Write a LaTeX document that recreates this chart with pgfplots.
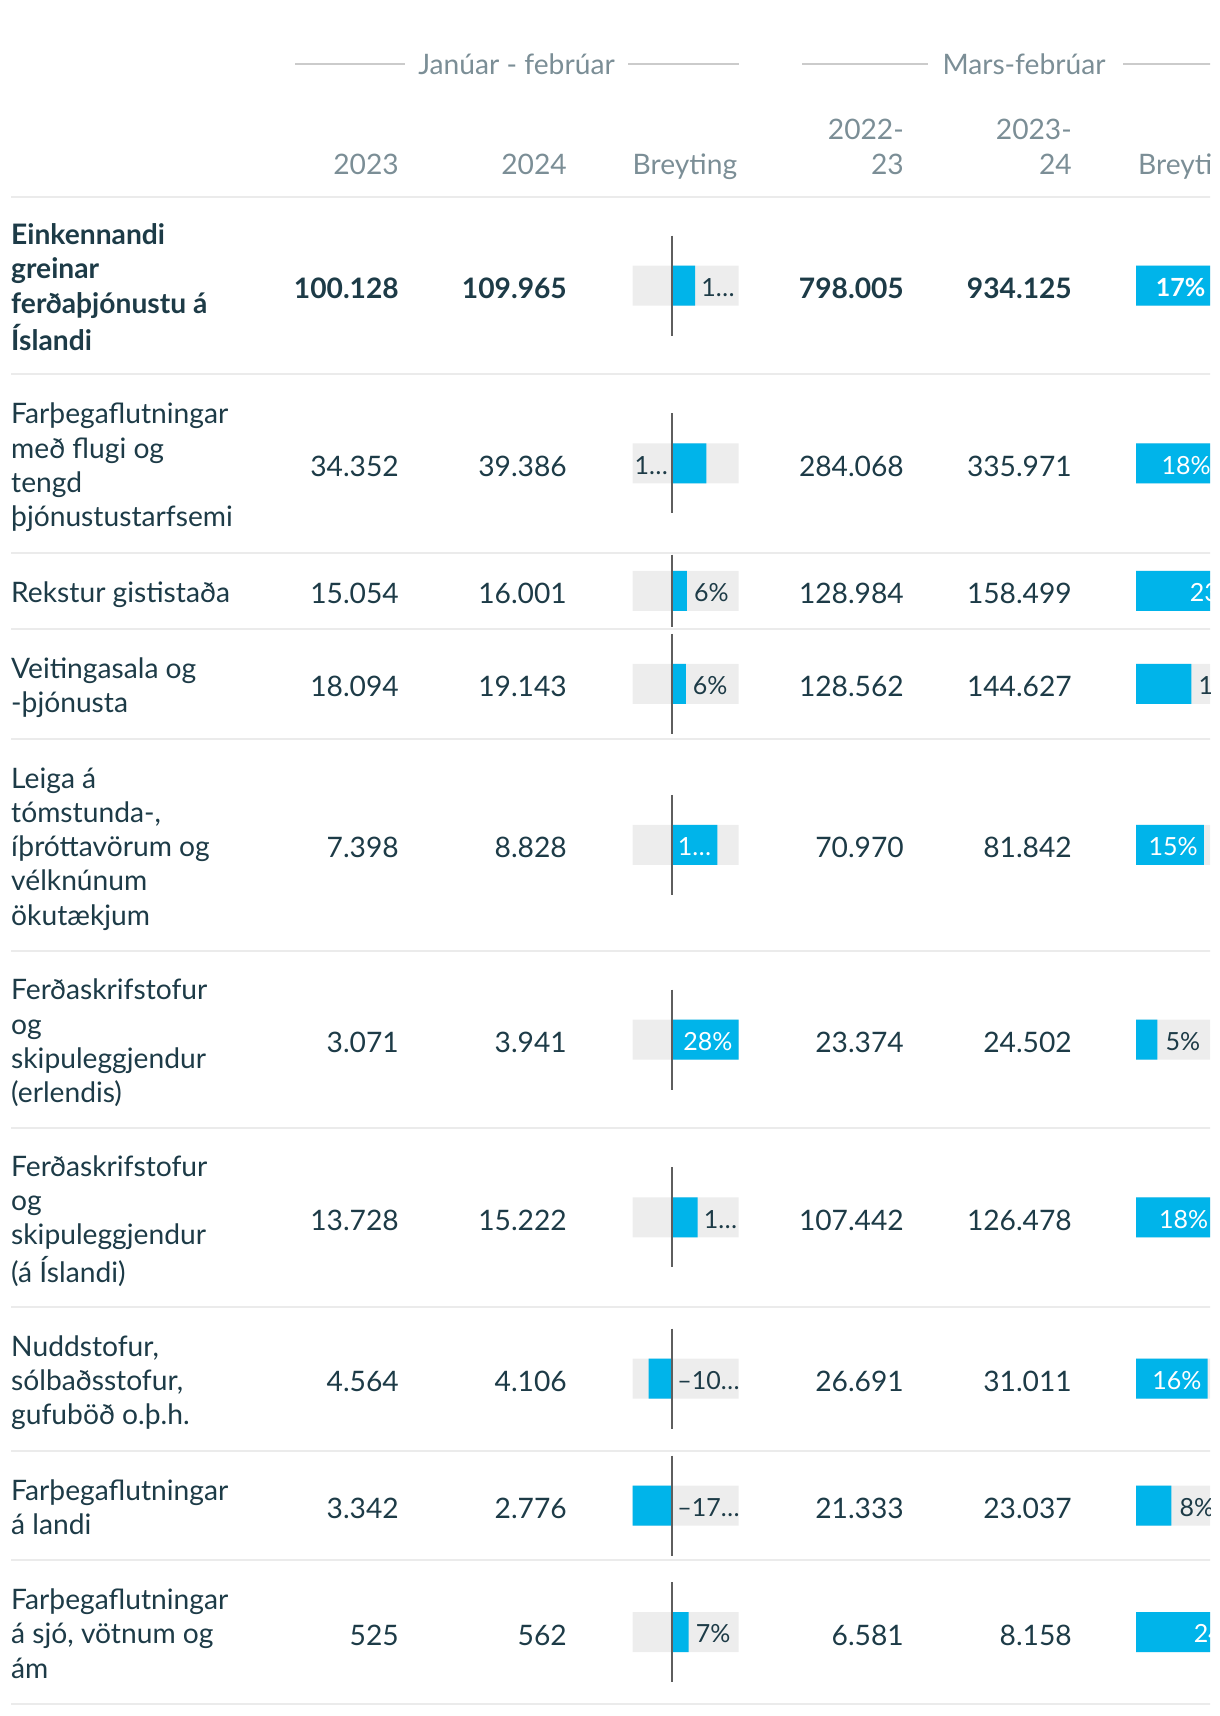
\documentclass[border=0pt]{standalone}
\usepackage{fontspec}
\setmainfont{Lato}
\usepackage{pgfplots}
\usepackage{pgfplotstable}
\pgfplotsset{compat=1.18}
\definecolor{dark}{HTML}{1D3B47}
\definecolor{hdr}{HTML}{7B8E96}
\definecolor{hline}{HTML}{CBCBCB}
\definecolor{sepc}{HTML}{EBEBEB}
\definecolor{track}{HTML}{EDEDED}
\definecolor{cblue}{HTML}{00B4EA}
\definecolor{zline}{HTML}{5E5E5E}

% row centre (px from top), change Jan-Feb (%), change Mar-Feb (%)
\pgfplotstableread{
yc ca cb
285.6 9.82 17.06
463.4 14.65 18.27
590.9 6.29 22.88
683.9 5.80 12.50
844.8 19.33 15.32
1039.5 28.33 4.83
1217.3 10.88 17.72
1378.7 -10.03 16.19
1505.6 -16.94 7.99
1632.0 7.05 23.96
}\chg

\newcommand\body{\fontsize{28.2}{34.3}\selectfont}
\newcommand\lbl{\fontsize{25}{30}\selectfont}
\newcommand\vals[5]{%
  \node[anchor=base east] at (399,#1+3) {#2};
  \node[anchor=base east] at (567,#1+3) {#3};
  \node[anchor=base east] at (904,#1+3) {#4};
  \node[anchor=base east] at (1072,#1+3) {#5};}

\begin{document}
\begin{tikzpicture}[x=1pt,y=-1pt,font=\body,inner sep=0pt]
\path[use as bounding box] (0,0) rectangle (1220,1716);
\begin{scope}
\clip (0,0) rectangle (1210,1716);
% header
\draw[hline, line width=2pt] (295,63.5) -- (405,63.5) (628,63.5) -- (738.6,63.5);
\draw[hline, line width=2pt] (802,63.5) -- (928,63.5) (1123,63.5) -- (1246,63.5);
\node[anchor=base, text=hdr] at (516.5,74.5) {Janúar - febrúar};
\node[anchor=base, text=hdr] at (1024,74.5) {Mars-febrúar};
\begin{scope}[text=hdr]
\node[anchor=base east] at (399,174) {2023};
\node[anchor=base east] at (567,174) {2024};
\node[anchor=base west] at (632.5,174) {Breyting};
\node[anchor=base east] at (904,139) {2022-};
\node[anchor=base east] at (904,174) {23};
\node[anchor=base east] at (1072,139) {2023-};
\node[anchor=base east] at (1072,174) {24};
\node[anchor=base west] at (1138,174) {Breyting};
\end{scope}
% separators
\foreach \yy in {197,374.2,552.6,629.2,738.6,950.9,1128.1,1306.5,1450.9,1560.3,1703.7}
  \draw[sepc, line width=2pt] (11,\yy) -- (1220,\yy);
% row labels
\begin{scope}[text=dark, every node/.append style={yshift=-5pt}]
\node[anchor=west, align=left] at (11,285.6) {\bfseries\strut Einkennandi\\\bfseries\strut greinar\\\bfseries\strut ferðaþjónustu á\\\bfseries\strut Íslandi};
\node[anchor=west, align=left] at (11,463.4) {\strut Farþegaflutningar\\\strut með flugi og\\\strut tengd\\\strut þjónustustarfsemi};
\node[anchor=west, align=left] at (11,590.9) {\strut Rekstur gististaða};
\node[anchor=west, align=left] at (11,683.9) {\strut Veitingasala og\\\strut -þjónusta};
\node[anchor=west, align=left] at (11,844.8) {\strut Leiga á\\\strut tómstunda-,\\\strut íþróttavörum og\\\strut vélknúnum\\\strut ökutækjum};
\node[anchor=west, align=left] at (11,1039.5) {\strut Ferðaskrifstofur\\\strut og\\\strut skipuleggjendur\\\strut (erlendis)};
\node[anchor=west, align=left] at (11,1217.3) {\strut Ferðaskrifstofur\\\strut og\\\strut skipuleggjendur\\\strut (á Íslandi)};
\node[anchor=west, align=left] at (11,1378.7) {\strut Nuddstofur,\\\strut sólbaðsstofur,\\\strut gufuböð o.þ.h.};
\node[anchor=west, align=left] at (11,1505.6) {\strut Farþegaflutningar\\\strut á landi};
\node[anchor=west, align=left] at (11,1632.0) {\strut Farþegaflutningar\\\strut á sjó, vötnum og\\\strut ám};
\end{scope}
% values
\begin{scope}[text=dark]
\begin{scope}[font=\body\bfseries]
\vals{295.6}{100.128}{109.965}{798.005}{934.125}
\end{scope}
\vals{473.4}{34.352}{39.386}{284.068}{335.971}
\vals{600.9}{15.054}{16.001}{128.984}{158.499}
\vals{693.9}{18.094}{19.143}{128.562}{144.627}
\vals{854.8}{7.398}{8.828}{70.970}{81.842}
\vals{1049.5}{3.071}{3.941}{23.374}{24.502}
\vals{1227.3}{13.728}{15.222}{107.442}{126.478}
\vals{1388.7}{4.564}{4.106}{26.691}{31.011}
\vals{1515.6}{3.342}{2.776}{21.333}{23.037}
\vals{1642.0}{525}{562}{6.581}{8.158}
\end{scope}

% Breyting, Janúar - febrúar
\begin{axis}[at={(632.5pt,-1716pt)}, anchor=south west, scale only axis,
  width=106pt, height=1716pt, xmin=-16.94, xmax=28.33, ymin=0, ymax=1716,
  y dir=reverse, hide axis, clip=false]
\addplot[xbar, bar width=40pt, bar shift=0pt, fill=track, draw=none] table[x expr=28.33, y=yc]{\chg};
\addplot[xbar, bar width=40pt, bar shift=0pt, fill=track, draw=none] table[x expr=-16.94, y=yc]{\chg};
\addplot[xbar, bar width=40pt, bar shift=0pt, fill=cblue, draw=none] table[x=ca, y=yc]{\chg};
\draw[zline, line width=2pt] (axis cs:0,235.6) -- (axis cs:0,335.6);
\draw[zline, line width=2pt] (axis cs:0,413.4) -- (axis cs:0,513.4);
\draw[zline, line width=2pt] (axis cs:0,554.6) -- (axis cs:0,627.2);
\draw[zline, line width=2pt] (axis cs:0,633.9) -- (axis cs:0,733.9);
\draw[zline, line width=2pt] (axis cs:0,794.8) -- (axis cs:0,894.8);
\draw[zline, line width=2pt] (axis cs:0,989.5) -- (axis cs:0,1089.5);
\draw[zline, line width=2pt] (axis cs:0,1167.3) -- (axis cs:0,1267.3);
\draw[zline, line width=2pt] (axis cs:0,1328.7) -- (axis cs:0,1428.7);
\draw[zline, line width=2pt] (axis cs:0,1455.6) -- (axis cs:0,1555.6);
\draw[zline, line width=2pt] (axis cs:0,1582.0) -- (axis cs:0,1682.0);
\begin{scope}[font=\lbl, text=dark, every node/.append style={yshift=-2pt}]
\node[anchor=west, xshift=6pt] at (axis cs:9.82,285.6) {1…};
\node[anchor=west, xshift=2pt] at (axis cs:-16.94,463.4) {1…};
\node[anchor=west, xshift=7pt] at (axis cs:6.29,590.9) {6\%};
\node[anchor=west, xshift=7pt] at (axis cs:5.80,683.9) {6\%};
\node[anchor=east, xshift=-6pt, text=white] at (axis cs:19.33,844.8) {1…};
\node[anchor=east, xshift=-6pt, text=white] at (axis cs:28.33,1039.5) {28\%};
\node[anchor=west, xshift=6pt] at (axis cs:10.88,1217.3) {1…};
\node[anchor=west, xshift=5pt] at (axis cs:0,1378.7) {–10…};
\node[anchor=west, xshift=5pt] at (axis cs:0,1505.6) {–17…};
\node[anchor=west, xshift=7pt] at (axis cs:7.05,1632.0) {7\%};
\end{scope}
\end{axis}

% Breyting, Mars-febrúar
\begin{axis}[at={(1136pt,-1716pt)}, anchor=south west, scale only axis,
  width=106pt, height=1716pt, xmin=0, xmax=23.96, ymin=0, ymax=1716,
  y dir=reverse, hide axis, clip=false]
\addplot[xbar, bar width=40pt, bar shift=0pt, fill=track, draw=none] table[x expr=23.96, y=yc]{\chg};
\addplot[xbar, bar width=40pt, bar shift=0pt, fill=cblue, draw=none] table[x=cb, y=yc]{\chg};
\begin{scope}[font=\lbl, text=white, every node/.append style={yshift=-2pt}]
\node[anchor=east, xshift=-6pt, font=\lbl\bfseries] at (axis cs:17.06,285.6) {17\%};
\node[anchor=east, xshift=-6pt] at (axis cs:18.27,463.4) {18\%};
\node[anchor=east, xshift=2pt] at (axis cs:22.88,590.9) {23\%};
\node[anchor=west, xshift=7pt, text=dark] at (axis cs:12.50,683.9) {12\%};
\node[anchor=east, xshift=-6pt] at (axis cs:15.32,844.8) {15\%};
\node[anchor=west, xshift=8pt, text=dark] at (axis cs:4.83,1039.5) {5\%};
\node[anchor=east, xshift=-6pt] at (axis cs:17.72,1217.3) {18\%};
\node[anchor=east, xshift=-6pt] at (axis cs:16.19,1378.7) {16\%};
\node[anchor=west, xshift=8pt, text=dark] at (axis cs:7.99,1505.6) {8\%};
\node[anchor=east, xshift=1pt] at (axis cs:23.96,1632.0) {24\%};
\end{scope}
\end{axis}
\end{scope}
\end{tikzpicture}
\end{document}
